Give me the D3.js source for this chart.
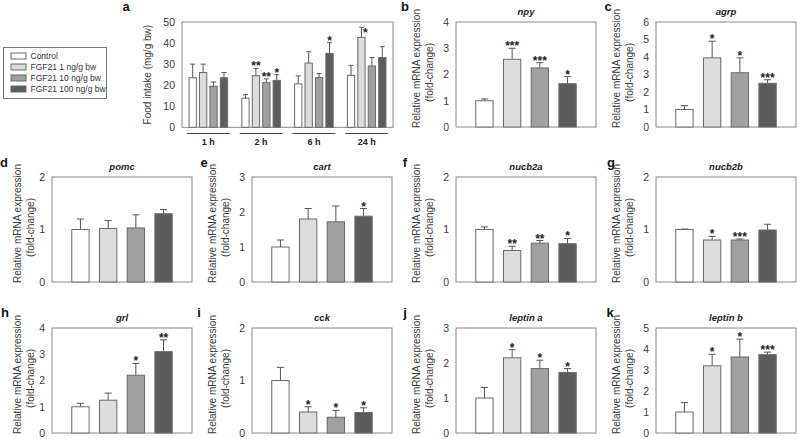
<!DOCTYPE html>
<html><head><meta charset="utf-8">
<script src="https://cdn.jsdelivr.net/npm/d3@7"></script>
<style>
html,body{margin:0;padding:0;background:#fff;}
svg{display:block;font-family:"Liberation Sans",Arial,Helvetica,sans-serif;}
</style></head>
<body>
<svg id="chart" width="798" height="439"></svg>
<script>
// ---------- DATA ----------
const groups = ["Control","FGF21 1 ng/g bw","FGF21 10 ng/g bw","FGF21 100 ng/g bw"];
const timeLabels = ["1 h","2 h","6 h","24 h"];
const foodTicks = [0,10,20,30,40,50];
const foodMean = [[23.5,26,19.5,23.5],[13.8,24.5,21.2,22.3],[20.6,30.5,23.6,35.1],[24.7,42.7,29.1,33.1]];
const foodSEM  = [[6.5,4,2,2.5],[1.7,3.5,1.8,2.7],[3.8,5.4,1.9,5.1],[4.7,4.8,4,5.2]];
const foodSig  = [["","","",""],["","**","**","*"],["","","","*"],["","*","",""]];

const genes = ["npy","agrp","pomc","cart","nucb2a","nucb2b","grl","cck","leptin a","leptin b"];
const panelLetters = ["b","c","d","e","f","g","h","i","j","k"];
const geneMax = [4,6,2,3,2,2,4,2,3,5];
const geneMeans = [
  [1.0,2.58,2.25,1.65],
  [1.0,3.95,3.1,2.5],
  [1.0,1.02,1.03,1.3],
  [1.0,1.8,1.72,1.88],
  [1.0,0.6,0.74,0.73],
  [1.0,0.8,0.8,0.99],
  [1.0,1.25,2.2,3.1],
  [1.0,0.4,0.3,0.39],
  [1.0,2.15,1.84,1.73],
  [1.0,3.2,3.62,3.73]];
const geneSEM = [
  [0.07,0.42,0.2,0.27],
  [0.22,0.95,0.85,0.2],
  [0.2,0.15,0.25,0.08],
  [0.2,0.3,0.45,0.22],
  [0.05,0.08,0.05,0.1],
  [0.01,0.07,0.02,0.11],
  [0.13,0.27,0.45,0.45],
  [0.25,0.1,0.13,0.09],
  [0.3,0.23,0.24,0.11],
  [0.45,0.55,0.85,0.12]];
const geneSig = [
  ["","***","***","*"],
  ["","*","*","***"],
  ["","","",""],
  ["","","","*"],
  ["","**","**","*"],
  ["","*","***",""],
  ["","","*","**"],
  ["","*","*","*"],
  ["","*","*","*"],
  ["","*","*","***"]];

// ---------- STYLE / LAYOUT ----------
const fills = ["#ffffff","#dcdcdc","#a0a0a0","#5c5c5c"];
const barStroke = "#6a6a6a";
const frameColor = "#8a8a8a";
const textColor = "#3a3a3a";
const FONT = 10.5;

const svg = d3.select("#chart");
const color = d3.scaleOrdinal().domain(d3.range(4)).range(fills);

function drawErr(g, cx, yTop, yCap, capW){
  g.append("line").attr("x1",cx).attr("x2",cx).attr("y1",yTop).attr("y2",yCap)
    .attr("stroke","#555").attr("stroke-width",1);
  g.append("line").attr("x1",cx-capW/2).attr("x2",cx+capW/2).attr("y1",yCap).attr("y2",yCap)
    .attr("stroke","#555").attr("stroke-width",1);
}
function drawStar(g, txt, cx, yCap, top){
  if(!txt) return;
  let x = cx, y = yCap + 2, anchor = "middle";
  if (yCap - 9 < top) { x = cx + 1.5; y = yCap + 10; anchor = "start"; }
  g.append("text").attr("x",x).attr("y",y).attr("text-anchor",anchor)
    .attr("font-size",12).attr("font-weight","bold").attr("fill","#222").text(txt);
}
function frame(g, x0, x1, y0, y1){
  g.append("rect").attr("x",x0).attr("y",y0).attr("width",x1-x0).attr("height",y1-y0)
    .attr("fill","none").attr("stroke",frameColor).attr("stroke-width",1);
}
function yAxis(g, y, left, ticks){
  const ax = g.append("g").attr("transform",`translate(${left},0)`)
    .call(d3.axisLeft(y).tickValues(ticks).tickSize(0).tickPadding(7).tickFormat(d3.format("d")));
  ax.select(".domain").remove();
  ax.selectAll("text").attr("font-size",FONT).attr("fill",textColor)
    .attr("font-family","Liberation Sans, Arial, sans-serif");
}
function panelLetter(x, y, t){
  svg.append("text").attr("x",x).attr("y",y).attr("text-anchor","middle")
    .attr("font-size",13).attr("font-weight","bold").attr("fill","#111").text(t);
}

// ---------- PANEL a ----------
{
  const left=182, right=393, top=22, bottom=127.3;
  const g = svg.append("g");
  const y = d3.scaleLinear().domain([0,50]).range([bottom,top]);
  const x0 = d3.scaleBand().domain(timeLabels).range([left,right]).paddingInner(0.19).paddingOuter(0.094);
  const x1 = d3.scaleBand().domain(d3.range(4)).range([0,x0.bandwidth()]).paddingInner(0.3).paddingOuter(0.2);
  frame(g,left,right,top,bottom);
  yAxis(g,y,left,foodTicks);
  timeLabels.forEach((t,gi)=>{
    const gx = x0(t);
    foodMean[gi].forEach((v,si)=>{
      const bx = gx + x1(si), bw = x1.bandwidth(), cx = bx + bw/2;
      const capY = y(v + foodSEM[gi][si]);
      drawErr(g, cx, y(v), capY, 5);
      g.append("rect").attr("x",bx).attr("y",y(v)).attr("width",bw).attr("height",bottom-y(v))
        .attr("fill",color(si)).attr("stroke",barStroke).attr("stroke-width",1);
      drawStar(g, foodSig[gi][si], cx, capY, top);
    });
    g.append("line").attr("x1",gx).attr("x2",gx+x0.bandwidth()).attr("y1",133.5).attr("y2",133.5)
      .attr("stroke","#444").attr("stroke-width",1);
    g.append("text").attr("x",gx+x0.bandwidth()/2).attr("y",145).attr("text-anchor","middle")
      .attr("font-size",9).attr("font-weight","bold").attr("fill","#222").text(t);
  });
  g.append("text").attr("transform",`translate(${left-31},${(top+bottom)/2}) rotate(-90)`)
    .attr("text-anchor","middle").attr("font-size",10).attr("fill",textColor).text("Food intake (mg/g bw)");
  panelLetter(126,11,"a");

  // legend
  const lg = svg.append("g");
  lg.append("rect").attr("x",3.5).attr("y",47.5).attr("width",103).attr("height",51)
    .attr("fill","#fff").attr("stroke","#777").attr("stroke-width",1);
  groups.forEach((name,i)=>{
    const yy = 56 + i*11;
    lg.append("rect").attr("x",11).attr("y",yy-3).attr("width",15).attr("height",6)
      .attr("fill",color(i)).attr("stroke",barStroke).attr("stroke-width",1);
    lg.append("text").attr("x",30.5).attr("y",yy+3).attr("font-size",8.5).attr("fill","#333").text(name);
  });
}

// ---------- mRNA PANELS ----------
const colLefts = [52,252,456,656];
const rowTops = [22,177,328];
const panelW = 140, panelH = 105;
const panelPos = [[0,2],[0,3],[1,0],[1,1],[1,2],[1,3],[2,0],[2,1],[2,2],[2,3]]; // [row,col]
const letterPos = [[405,11],[608,11],[4,167],[204,167],[405,167],[611,167],[5,317],[199,317],[405,317],[610,317]];

genes.forEach((gene,k)=>{
  const [r,c] = panelPos[k];
  const left = colLefts[c], top = rowTops[r], right = left+panelW, bottom = top+panelH;
  const g = svg.append("g");
  const y = d3.scaleLinear().domain([0,geneMax[k]]).range([bottom,top]);
  const x = d3.scaleBand().domain(d3.range(4)).range([left,right]).paddingInner(0.375).paddingOuter(0.714);
  frame(g,left,right,top,bottom);
  yAxis(g,y,left,d3.range(0,geneMax[k]+1));
  geneMeans[k].forEach((v,si)=>{
    const bx = x(si), bw = x.bandwidth(), cx = bx+bw/2;
    const capY = y(v + geneSEM[k][si]);
    drawErr(g, cx, y(v), capY, 7);
    g.append("rect").attr("x",bx).attr("y",y(v)).attr("width",bw).attr("height",bottom-y(v))
      .attr("fill",color(si)).attr("stroke",barStroke).attr("stroke-width",1);
    drawStar(g, geneSig[k][si], cx, capY, top);
  });
  g.append("text").attr("x",(left+right)/2).attr("y",top-7).attr("text-anchor","middle")
    .attr("font-size",9.5).attr("font-weight","bold").attr("font-style","italic").attr("fill","#222").text(gene);
  const off1 = c===0 ? -31 : -36, off2 = c===0 ? -18 : -23;
  const cy = (top+bottom)/2;
  g.append("text").attr("transform",`translate(${left+off1},${cy-6}) rotate(-90)`)
    .attr("text-anchor","middle").attr("font-size",10).attr("fill",textColor).text("Relative mRNA expression");
  g.append("text").attr("transform",`translate(${left+off2},${cy-2}) rotate(-90)`)
    .attr("text-anchor","middle").attr("font-size",10).attr("fill",textColor).text("(fold-change)");
  panelLetter(letterPos[k][0],letterPos[k][1],panelLetters[k]);
});
</script>
</body></html>
